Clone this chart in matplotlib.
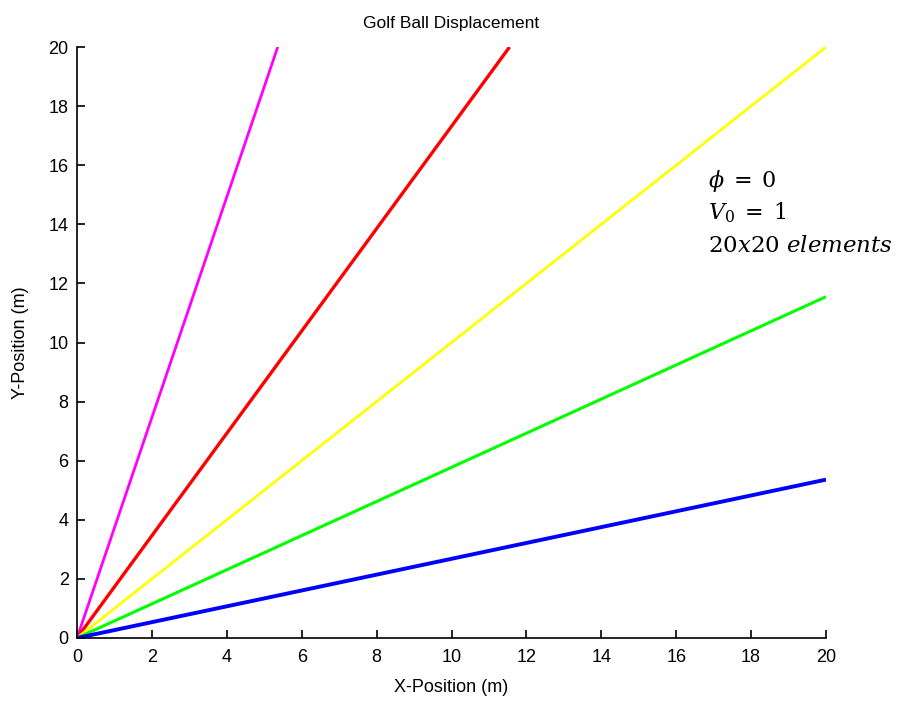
import numpy as np
import matplotlib
matplotlib.use("Agg")
import matplotlib.pyplot as plt

# Data: straight trajectories from the origin (end points)
series_names = ["75 deg", "60 deg", "45 deg", "30 deg", "15 deg"]
end_x = [5.36, 11.55, 20.0, 20.0, 20.0]
end_y = [20.0, 20.0, 20.0, 11.55, 5.36]
colors = ["#ff00ff", "#ff0000", "#ffff00", "#00ff00", "#0000ff"]
widths = [2.0, 2.4, 2.0, 2.2, 2.8]
x_ticks = list(range(0, 21, 2))
y_ticks = list(range(0, 21, 2))

plt.rcParams['font.family'] = ['Liberation Sans', 'DejaVu Sans']
plt.rcParams['mathtext.fontset'] = 'dejavuserif'

fig = plt.figure(figsize=(9.07, 7.02), dpi=100)
ax = fig.add_axes([77/907, 1-638/702, (826-77)/907, (638-47)/702])

for xe, ye, c, w in zip(end_x, end_y, colors, widths):
    ax.plot([0, xe], [0, ye], color=c, lw=w, solid_capstyle='butt')

ax.set_xlim(0, 20)
ax.set_ylim(0, 20)
ax.set_xticks(x_ticks)
ax.set_yticks(y_ticks)
ax.tick_params(direction='in', length=6, labelsize=13, width=1.2)
ax.tick_params(axis='x', pad=8)
ax.tick_params(axis='y', pad=6)
for s in ['top', 'right']:
    ax.spines[s].set_visible(False)
for s in ['left', 'bottom']:
    ax.spines[s].set_linewidth(1.2)
ax.set_title("Golf Ball Displacement", fontsize=12.5, pad=14)
ax.set_xlabel("X-Position (m)", fontsize=13, labelpad=9)
ax.set_ylabel("Y-Position (m)", fontsize=13, labelpad=14)

ax.text(708/907, 1-181/702, r"$\phi\;=\;0$", transform=fig.transFigure,
        fontsize=16, va='center', ha='left')
ax.text(708/907, 1-213/702, r"$V_0\;=\;1$", transform=fig.transFigure,
        fontsize=16, va='center', ha='left')
ax.text(708/907, 1-246/702, r"$\mathrm{20}x\mathrm{20}\ elements$", transform=fig.transFigure,
        fontsize=16.5, va='center', ha='left')

fig.savefig("out.png", dpi=100)
